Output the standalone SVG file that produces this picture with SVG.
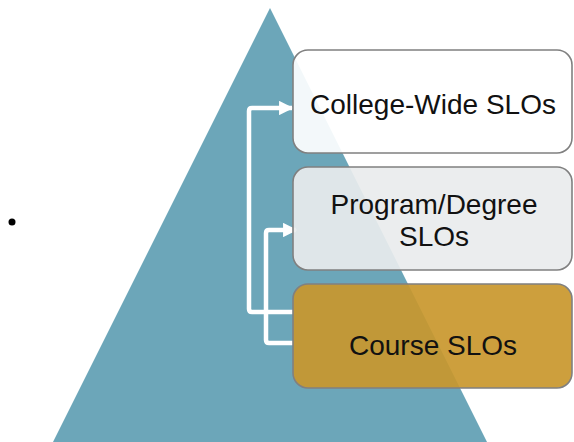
<svg xmlns="http://www.w3.org/2000/svg" width="574" height="442" viewBox="0 0 574 442">
<defs>
<style>
.box{stroke:#808080;stroke-width:1.6;}
.lbl{font-family:"Liberation Sans",Arial,sans-serif;font-size:28px;fill:#111;text-anchor:middle;}
.conn{fill:none;stroke:#ffffff;stroke-width:4.5;stroke-linejoin:round;}
</style>
<marker id="ah" viewBox="0 0 10 10" refX="9" refY="5" markerWidth="3.2" markerHeight="3.2" orient="auto" markerUnits="strokeWidth">
<path d="M0,0 L10,5 L0,10 z" fill="#ffffff"/>
</marker>
</defs>
<rect width="574" height="442" fill="#ffffff"/>
<circle cx="12" cy="222" r="3.5" fill="#000"/>
<polygon id="pyramid" points="270,8 53,442 487,442" fill="#6ca6b9"/>
<g id="connectors">
<path class="conn" d="M293,312 H252 Q249,312 249,309 V111 Q249,108 252,108 H292" marker-end="url(#ah)"/>
<path class="conn" d="M293,343 H269 Q266,343 266,340 V233 Q266,230 269,230 H296" marker-end="url(#ah)"/>
</g>
<g id="college">
<rect class="box" x="293" y="50" width="279" height="103" rx="15" fill="#ffffff" fill-opacity="0.92"/>
<text class="lbl" x="433" y="114">College-Wide SLOs</text>
</g>
<g id="program">
<rect class="box" x="293" y="167" width="279" height="103" rx="15" fill="#e9ebed" fill-opacity="0.92"/>
<text class="lbl" x="434" y="214">Program/Degree</text>
<text class="lbl" x="434" y="246">SLOs</text>
</g>
<g id="course">
<rect class="box" x="293" y="284" width="279" height="104" rx="15" fill="#c9972c" fill-opacity="0.92"/>
<text class="lbl" x="433" y="355">Course SLOs</text>
</g>
</svg>
